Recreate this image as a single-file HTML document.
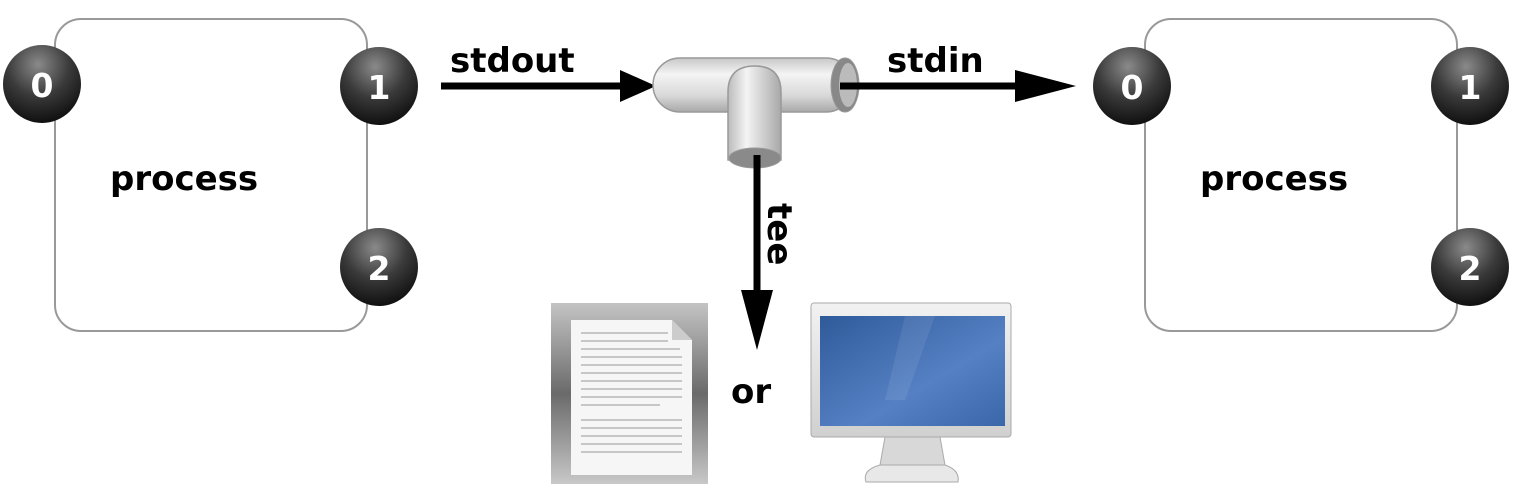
<!DOCTYPE html>
<html><head><meta charset="utf-8"><style>
body{margin:0;background:#fff;}
svg{display:block}
text{font-family:"DejaVu Sans","Liberation Sans",sans-serif;font-weight:bold;}
</style></head><body>
<svg width="1534" height="486" viewBox="0 0 1534 486" xmlns="http://www.w3.org/2000/svg">
<defs>
<radialGradient id="ball" cx="0.45" cy="0.25" r="0.8">
<stop offset="0" stop-color="#8a8a8a"/><stop offset="0.5" stop-color="#3a3a3a"/><stop offset="1" stop-color="#0a0a0a"/>
</radialGradient>
<linearGradient id="pipeH" x1="0" y1="0" x2="0" y2="1">
<stop offset="0" stop-color="#c8c8c8"/><stop offset="0.3" stop-color="#f4f4f4"/><stop offset="0.7" stop-color="#d8d8d8"/><stop offset="1" stop-color="#a8a8a8"/>
</linearGradient>
<linearGradient id="pipeV" x1="0" y1="0" x2="1" y2="0">
<stop offset="0" stop-color="#bbb"/><stop offset="0.35" stop-color="#f4f4f4"/><stop offset="1" stop-color="#a8a8a8"/>
</linearGradient>
<linearGradient id="frame" x1="0" y1="0" x2="0" y2="1">
<stop offset="0" stop-color="#c4c4c4"/><stop offset="0.5" stop-color="#6a6a6a"/><stop offset="1" stop-color="#c8c8c8"/>
</linearGradient>
<linearGradient id="screen" x1="0" y1="0" x2="1" y2="1">
<stop offset="0" stop-color="#2f5a9a"/><stop offset="0.6" stop-color="#5581c4"/><stop offset="1" stop-color="#3a66aa"/>
</linearGradient>
<linearGradient id="bezel" x1="0" y1="0" x2="0" y2="1">
<stop offset="0" stop-color="#f2f2f2"/><stop offset="1" stop-color="#d0d0d0"/>
</linearGradient>
</defs>

<!-- left process -->
<rect x="55" y="19" width="312" height="312" rx="26" fill="#fff" stroke="#999" stroke-width="2"/>
<text x="110" y="190" font-size="34">process</text>
<circle cx="42" cy="84" r="39" fill="url(#ball)"/><text x="42" y="97" font-size="33" fill="#fff" text-anchor="middle">0</text>
<circle cx="379" cy="86" r="39" fill="url(#ball)"/><text x="379" y="99" font-size="33" fill="#fff" text-anchor="middle">1</text>
<circle cx="379" cy="267" r="39" fill="url(#ball)"/><text x="379" y="280" font-size="33" fill="#fff" text-anchor="middle">2</text>

<!-- right process -->
<rect x="1145" y="19" width="312" height="312" rx="26" fill="#fff" stroke="#999" stroke-width="2"/>
<text x="1200" y="190" font-size="34">process</text>
<circle cx="1132" cy="86" r="39" fill="url(#ball)"/><text x="1132" y="99" font-size="33" fill="#fff" text-anchor="middle">0</text>
<circle cx="1470" cy="86" r="39" fill="url(#ball)"/><text x="1470" y="99" font-size="33" fill="#fff" text-anchor="middle">1</text>
<circle cx="1470" cy="267" r="39" fill="url(#ball)"/><text x="1470" y="280" font-size="33" fill="#fff" text-anchor="middle">2</text>

<!-- stdout arrow -->
<line x1="441" y1="86" x2="625" y2="86" stroke="#000" stroke-width="7"/>
<polygon points="620,70 656,86 620,102" fill="#000"/>
<text x="450" y="72" font-size="34">stdout</text>

<!-- pipe -->
<rect x="653" y="58" width="200" height="54" rx="27" fill="url(#pipeH)" stroke="#999" stroke-width="1.5"/>
<ellipse cx="845" cy="85" rx="14" ry="27" fill="#888" stroke="#999"/>
<ellipse cx="848" cy="85" rx="9" ry="22" fill="#bbb"/>
<path d="M728,160 L728,92 Q728,66 755,66 Q781,66 781,92 L781,160 Z" fill="url(#pipeV)" stroke="#999" stroke-width="1.5"/>
<ellipse cx="755" cy="158" rx="26" ry="10" fill="#8a8a8a" stroke="#999"/>

<!-- stdin arrow -->
<line x1="840" y1="86" x2="1020" y2="86" stroke="#000" stroke-width="7"/>
<polygon points="1015,70 1076,86 1015,102" fill="#000"/>
<text x="887" y="72" font-size="34">stdin</text>

<!-- tee arrow -->
<line x1="757" y1="155" x2="757" y2="295" stroke="#000" stroke-width="7"/>
<polygon points="741,290 757,350 773,290" fill="#000"/>
<text font-size="34" transform="translate(768,203) rotate(90)">tee</text>
<text x="731" y="403" font-size="34">or</text>

<!-- document -->
<rect x="551" y="303" width="157" height="181" fill="url(#frame)"/>
<path d="M571,320 L672,320 L692,340 L692,475 L571,475 Z" fill="#f6f6f6"/>
<path d="M672,320 L672,340 L692,340 Z" fill="#ccc"/>
<g stroke="#aaa" stroke-width="1.3">
<line x1="581" y1="333" x2="668" y2="333"/><line x1="581" y1="341" x2="668" y2="341"/>
<line x1="581" y1="349" x2="680" y2="349"/><line x1="581" y1="357" x2="682" y2="357"/>
<line x1="581" y1="365" x2="682" y2="365"/><line x1="581" y1="373" x2="682" y2="373"/>
<line x1="581" y1="381" x2="682" y2="381"/><line x1="581" y1="389" x2="682" y2="389"/>
<line x1="581" y1="397" x2="682" y2="397"/><line x1="581" y1="405" x2="660" y2="405"/>
<line x1="581" y1="420" x2="682" y2="420"/><line x1="581" y1="428" x2="682" y2="428"/>
<line x1="581" y1="436" x2="682" y2="436"/><line x1="581" y1="444" x2="682" y2="444"/>
<line x1="581" y1="452" x2="682" y2="452"/>
</g>

<!-- monitor -->
<rect x="811" y="303" width="200" height="134" rx="3" fill="url(#bezel)" stroke="#aaa"/>
<rect x="820" y="316" width="185" height="110" fill="url(#screen)"/>
<path d="M905,316 L935,316 L905,400 L885,400 Z" fill="#ffffff" opacity="0.08"/>
<path d="M885,437 L940,437 L945,465 L880,465 Z" fill="#d8d8d8" stroke="#aaa"/>
<path d="M880,465 L945,465 Q960,470 958,482 L866,482 Q862,470 880,465 Z" fill="#e8e8e8" stroke="#aaa"/>
</svg>
</body></html>
